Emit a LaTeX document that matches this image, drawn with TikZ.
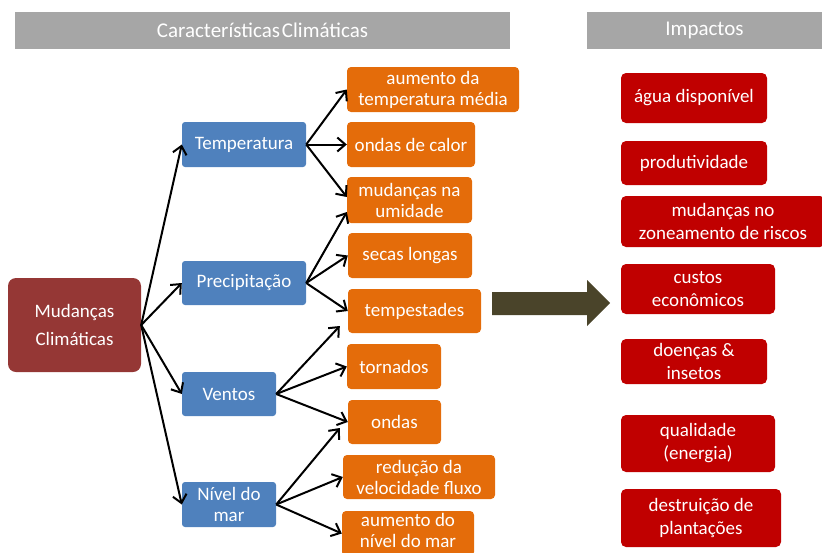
\documentclass[tikz,border=0pt]{standalone}
\usepackage{fontspec}
\setmainfont{Carlito}
\usetikzlibrary{arrows.meta}
\definecolor{hdgray}{HTML}{A6A6A6}
\definecolor{mcred}{HTML}{953735}
\definecolor{varblue}{HTML}{4F81BD}
\definecolor{efforange}{HTML}{E46C0A}
\definecolor{impred}{HTML}{C00000}
\definecolor{bigolive}{HTML}{4A442A}
\begin{document}
\begin{tikzpicture}[x=1pt, y=-1pt, every node/.style={font=\fontsize{19}{21}\selectfont, text=white, align=center, inner sep=0pt}, hd/.style={fill=hdgray, font=\fontsize{21}{23}\selectfont}, mc/.style={fill=mcred, rounded corners=8pt, font=\fontsize{19}{28}\selectfont}, var/.style={fill=varblue, rounded corners=3pt}, eff/.style={fill=efforange, rounded corners=4pt}, imp/.style={fill=impred, rounded corners=5pt, font=\fontsize{19}{23}\selectfont}, seta/.style={-{Straight Barb[length=8pt,width=14pt]}, line width=2pt}]
	\useasboundingbox (0,0) rectangle (822,552);
	\node[hd, minimum width=495, minimum height=37] (hdcar) at (262.5,30.5) {Características\hspace{2pt}Climáticas};
	\node[hd, minimum width=235, minimum height=37] (hdimp) at (704.5,30.5) {Impactos};
	\node[mc, minimum width=133, minimum height=94] (mc) at (74.5,325) {Mudanças\\Climáticas};
	\node[var, minimum width=124, minimum height=45] (temp) at (244,144.5) {Temperatura};
	\node[var, minimum width=124, minimum height=44] (prec) at (244,283) {Precipitação};
	\node[var, minimum width=94, minimum height=44] (vent) at (229,394) {Ventos};
	\node[var, minimum width=94, minimum height=45] (niv) at (229,504.5) {Nível do\\mar};
	\node[eff, minimum width=172, minimum height=45] (aum) at (433,89.5) {aumento da\\temperatura média};
	\node[eff, minimum width=128, minimum height=45] (ondc) at (411,144.5) {ondas de calor};
	\node[eff, minimum width=125, minimum height=46] (umid) at (409.5,200) {mudanças na\\umidade};
	\node[eff, minimum width=124, minimum height=45] (secas) at (410,255.5) {secas longas};
	\node[eff, minimum width=133, minimum height=44] (tmp) at (414.5,311) {tempestades};
	\node[eff, minimum width=94, minimum height=45] (torn) at (394,366.5) {tornados};
	\node[eff, minimum width=93, minimum height=44] (ondas) at (394.5,422) {ondas};
	\node[eff, minimum width=152, minimum height=44] (redv) at (419,477) {redução da\\velocidade fluxo};
	\node[eff, minimum width=132, minimum height=45] (aumn) at (408,533.5) {aumento do\\nível do mar\rule[-7pt]{0pt}{0pt}};
	\node[imp, minimum width=146, minimum height=50] (agua) at (694,98) {água disponível};
	\node[imp, minimum width=146, minimum height=44] (prod) at (694,163) {produtividade};
	\node[imp, minimum width=204, minimum height=51] (zon) at (723,221.5) {mudanças no\\zoneamento de riscos};
	\node[imp, minimum width=154, minimum height=50] (cust) at (698,289) {custos\\econômicos};
	\node[imp, minimum width=146, minimum height=45] (doen) at (694,361.5) {doenças \&\\insetos};
	\node[imp, minimum width=154, minimum height=57] (qual) at (698,443.5) {qualidade\\(energia)};
	\node[imp, minimum width=160, minimum height=58] (dest) at (701,518) {destruição de\\plantações};
	\fill[bigolive] (492,292) -- (587,292) -- (587,280) -- (610,303) -- (587,326) -- (587,315) -- (492,315) -- cycle;
	\draw[seta] (mc.east) -- (temp.west);
	\draw[seta] (mc.east) -- (prec.west);
	\draw[seta] (mc.east) -- (vent.west);
	\draw[seta] (mc.east) -- (niv.west);
	\draw[seta] (temp.east) -- (aum.west);
	\draw[seta] (temp.east) -- (ondc.west);
	\draw[seta] (temp.east) -- ([yshift=3pt]umid.west);
	\draw[seta] (prec.east) -- ([yshift=-12pt]umid.west);
	\draw[seta] (prec.east) -- (secas.west);
	\draw[seta] (prec.east) -- (tmp.west);
	\draw[seta] (vent.east) -- ([xshift=-8pt,yshift=-15pt]tmp.west);
	\draw[seta] (vent.east) -- (torn.west);
	\draw[seta] (vent.east) -- (ondas.west);
	\draw[seta] (niv.east) -- ([xshift=-8pt,yshift=-6pt]ondas.west);
	\draw[seta] (niv.east) -- (redv.west);
	\draw[seta] (niv.east) -- (aumn.west);
\end{tikzpicture}
\end{document}
